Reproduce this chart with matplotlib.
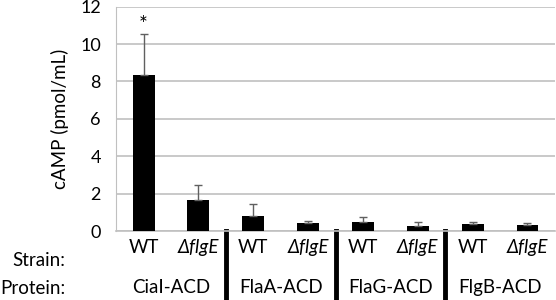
import matplotlib.pyplot as plt
import numpy as np
from matplotlib.transforms import blended_transform_factory

plt.rcParams['font.family'] = ['Lato', 'DejaVu Sans']

# values
strains = ['WT', '\u0394flgE', 'WT', '\u0394flgE', 'WT', '\u0394flgE', 'WT', '\u0394flgE']
proteins = ['CiaI-ACD', 'FlaA-ACD', 'FlaG-ACD', 'FlgB-ACD']
camp = [8.33, 1.68, 0.80, 0.41, 0.49, 0.28, 0.37, 0.33]
err = [2.23, 0.80, 0.63, 0.14, 0.24, 0.21, 0.09, 0.08]

x = np.arange(len(camp))

fig = plt.figure(figsize=(5.56, 3.0), dpi=100)
ax = fig.add_axes([0.209, 0.23, 0.789, 0.748])

ax.bar(x, camp, width=0.4, color='black', zorder=3)
ax.errorbar(x, camp, yerr=[np.zeros(len(err)), err], fmt='none',
            ecolor='#606060', elinewidth=1, capsize=3, capthick=1, zorder=4)
ax.text(x[0], camp[0] + err[0] - 0.1, '*', ha='center', va='bottom', fontsize=15)

ax.set_xlim(-0.5, len(camp) - 0.5)
ax.set_ylim(0, 12)
ax.set_yticks(range(0, 13, 2))
ax.set_xticks([])
ax.yaxis.grid(True, color='#c0c0c0', linewidth=1.2, zorder=0)
ax.set_axisbelow(True)
ax.tick_params(axis='y', length=0, labelsize=13, pad=11)
for s in ['top', 'right']:
    ax.spines[s].set_visible(False)
ax.spines['left'].set_color('#c0c0c0')
ax.spines['bottom'].set_color('#c0c0c0')
ax.spines['bottom'].set_linewidth(1.2)
ax.set_ylabel('cAMP (pmol/mL)', fontsize=13.5, labelpad=8)

trans = blended_transform_factory(ax.transData, ax.transAxes)
for i, s in enumerate(strains):
    ax.text(i, -0.075, s, transform=trans, ha='center', va='center', fontsize=13.5,
            style='italic' if i % 2 else 'normal')
for j, p in enumerate(proteins):
    ax.text(2 * j + 0.5, -0.25, p, transform=trans, ha='center', va='center', fontsize=13.5)
for b in [1.5, 3.5, 5.5]:
    ax.plot([b, b], [0, -0.33], transform=trans, color='black', linewidth=3.5, clip_on=False)

fig.text(65 / 556, 1 - 260 / 300, 'Strain:', ha='right', va='center', fontsize=13.5)
fig.text(65 / 556, 1 - 288 / 300, 'Protein:', ha='right', va='center', fontsize=13.5)

fig.savefig('out.png', dpi=100)
